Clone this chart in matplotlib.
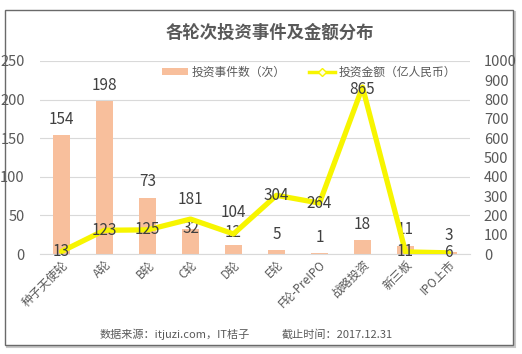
import matplotlib
matplotlib.use("Agg")
import matplotlib.pyplot as plt
from matplotlib.patches import Rectangle
from matplotlib.lines import Line2D

plt.rcParams['font.family'] = ['Noto Sans CJK SC', 'DejaVu Sans']

categories = ['种子天使轮', 'A轮', 'B轮', 'C轮', 'D轮', 'E轮', 'F轮-PreIPO', '战略投资', '新三板', 'IPO上市']
event_counts = [154, 198, 73, 32, 12, 5, 1, 18, 11, 3]
amounts = [13, 123, 125, 181, 104, 304, 264, 865, 11, 6]
left_ticks = [0, 50, 100, 150, 200, 250]
right_ticks = [0, 100, 200, 300, 400, 500, 600, 700, 800, 900, 1000]

title = '各轮次投资事件及金额分布'
bar_name = '投资事件数（次）'
line_name = '投资金额（亿人民币）'
source_text = '数据来源：itjuzi.com，IT桔子'
date_text = '截止时间：2017.12.31'

# label offsets in pixels (style)
bar_label_dy = [16, 16, 16, 1, 12, 16, 16, 16, 16, 16]
line_label_dy = [0, 0, 0, 20, 21, 0, 0, -2, 0, 0]

W, H = 522, 354
fig = plt.figure(figsize=(W / 100, H / 100), dpi=100)
fig.patch.set_facecolor('white')

# frame
fig.patches.append(Rectangle((7 / W, 1 - 347 / H), 508 / W, 335 / H, transform=fig.transFigure,
                             facecolor='none', edgecolor='#c8c8c8', lw=1.5, zorder=0))
fig.patches.append(Rectangle((5 / W, 1 - 345 / H), 508 / W, 335 / H, transform=fig.transFigure,
                             facecolor='white', edgecolor='#6a6a6a', lw=1.0, zorder=1))

ax_left, ax_right, ax_top, ax_bottom = 40, 470, 61, 254
ax = fig.add_axes([ax_left / W, 1 - ax_bottom / H, (ax_right - ax_left) / W, (ax_bottom - ax_top) / H])
ax.set_zorder(2)
ax.patch.set_visible(False)

text_color = '#595959'
label_color = '#404040'
bar_color = '#F8BF9C'
line_color = '#F7F500'

x = list(range(len(categories)))
bars = ax.bar(x, event_counts, width=0.4, color=bar_color, zorder=2)
ax.set_xlim(-0.5, len(categories) - 0.5)
ax.set_ylim(0, 250)
ax.set_yticks(left_ticks)
ax.yaxis.grid(True, color='#d9d9d9', lw=0.8)
ax.set_axisbelow(True)
for s in ['top', 'right', 'left']:
    ax.spines[s].set_visible(False)
ax.spines['bottom'].set_color('#d9d9d9')
ax.tick_params(axis='y', length=0, pad=11, labelsize=10.5, labelcolor=text_color)
ax.tick_params(axis='x', length=0, pad=3, labelcolor=text_color)
ax.set_xticks(x)
ax.set_xticklabels(categories, rotation=45, ha='right', rotation_mode='anchor', fontsize=8.5)

for xi, v, dy in zip(x, event_counts, bar_label_dy):
    ax.annotate(str(v), (xi, v), xytext=(0, dy), textcoords='offset pixels',
                ha='center', va='center', fontsize=11, color=label_color, zorder=5)

ax2 = ax.twinx()
ax2.set_ylim(0, 1000)
ax2.set_yticks(right_ticks)
for s in ['top', 'right', 'left', 'bottom']:
    ax2.spines[s].set_visible(False)
ax2.tick_params(axis='y', length=0, pad=10, labelsize=10.5, labelcolor=text_color)
ax2.plot(x, amounts, color=line_color, lw=3.8, solid_joinstyle='round', solid_capstyle='round', zorder=3)
for xi, v, dy in zip(x, amounts, line_label_dy):
    ax2.annotate(str(v), (xi, v), xytext=(0, dy), textcoords='offset pixels',
                 ha='center', va='center', fontsize=11, color=label_color, zorder=5)

handles = [Rectangle((0, 0), 1, 1, facecolor=bar_color, edgecolor='none'),
           Line2D([0], [0], color=line_color, lw=2.5, marker='D', markersize=4,
                  markerfacecolor='#ffffe0', markeredgecolor=line_color)]
leg = ax2.legend(handles, [bar_name, line_name], ncol=2, loc='center',
                 bbox_to_anchor=(0.625, 0.943), frameon=False, fontsize=8.5,
                 handlelength=2.2, handleheight=0.6, columnspacing=2.0, handletextpad=0.3)
for t in leg.get_texts():
    t.set_color(text_color)

fig.text(270 / W, 1 - 33 / H, title, ha='center', va='center', fontsize=12.5,
         fontweight='bold', color=text_color)
fig.text(100 / W, 1 - 334 / H, source_text, ha='left', va='center', fontsize=8, color=text_color)
fig.text(282 / W, 1 - 334 / H, date_text, ha='left', va='center', fontsize=8, color=text_color)

fig.savefig('out.png', dpi=100)
